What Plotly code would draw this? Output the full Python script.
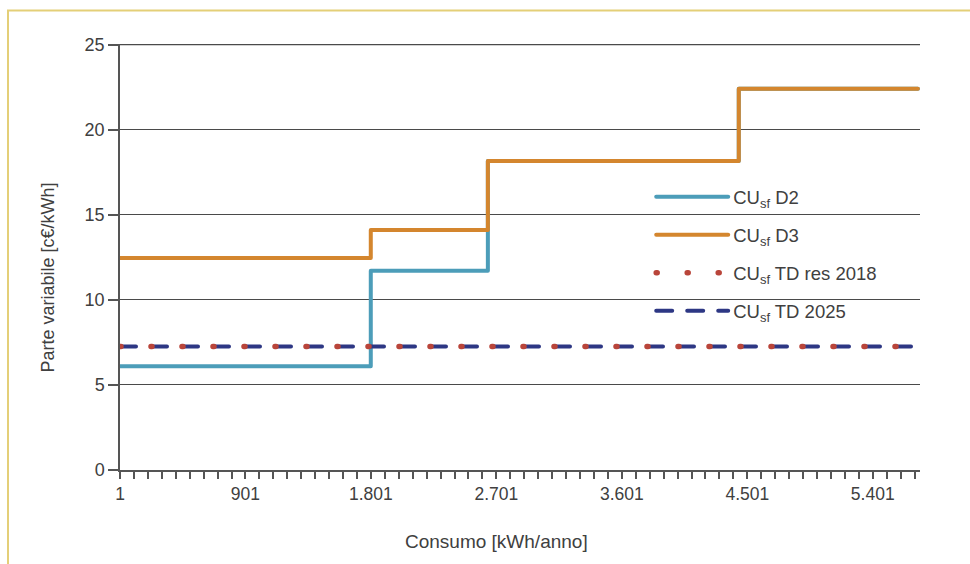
import plotly.graph_objects as go

# Consumption brackets (kWh/anno) where each tariff level begins, plus the last point
consumo_kwh = [1, 1800, 2640, 4440, 5725]
cu_sf_d2 = [6.1, 11.7, 18.15, 22.4, 22.4]
cu_sf_d3 = [12.45, 14.1, 18.15, 22.4, 22.4]

# Flat tariffs over the whole range
td_x = [1, 5725]
cu_sf_td_2018 = [7.25, 7.25]
cu_sf_td_2025 = [7.25, 7.25]

x_tick_vals = [1, 901, 1801, 2701, 3601, 4501, 5401]
x_tick_text = ["1", "901", "1.801", "2.701", "3.601", "4.501", "5.401"]
y_tick_vals = [0, 5, 10, 15, 20, 25]

FONT = "Liberation Sans, Arial, sans-serif"
TEXT = "#404040"
AXIS = "#555555"
GRID = "#4a4a4a"

fig = go.Figure()

fig.add_trace(go.Scatter(
    x=consumo_kwh, y=cu_sf_d2, mode="lines", line_shape="hv",
    name="CU<sub>sf</sub> D2", legendgroup="d2", legendrank=1,
    line=dict(color="#4c9db9", width=4),
))
fig.add_trace(go.Scatter(
    x=consumo_kwh, y=cu_sf_d3, mode="lines", line_shape="hv",
    name="CU<sub>sf</sub> D3", legendgroup="d3", legendrank=2,
    line=dict(color="#d4862e", width=4),
))
fig.add_trace(go.Scatter(
    x=td_x, y=cu_sf_td_2025, mode="lines",
    name="CU<sub>sf</sub> TD 2025", legendgroup="td25", legendrank=4,
    line=dict(color="#2d3784", width=4, dash="16px,15px"),
))
fig.add_trace(go.Scatter(
    x=td_x, y=cu_sf_td_2018, mode="lines",
    name="CU<sub>sf</sub> TD res 2018", legendgroup="td18", legendrank=3,
    line=dict(color="#b9453a", width=5.5, dash="1px,30px"),
))

fig.update_layout(
    width=970, height=564,
    margin=dict(l=120, r=50, t=44, b=94, pad=0),
    paper_bgcolor="white", plot_bgcolor="white",
    font=dict(family=FONT, size=17.5, color=TEXT),
    legend=dict(
        x=0.664, y=0.685, xanchor="left", yanchor="top",
        bgcolor="rgba(255,255,255,0)", borderwidth=0,
        font=dict(family=FONT, size=18.5, color=TEXT),
        tracegroupgap=11, itemwidth=72,
    ),
    xaxis=dict(
        range=[1, 5740], showgrid=False, zeroline=False,
        showline=True, linecolor=AXIS, linewidth=1.5,
        tickmode="array", tickvals=x_tick_vals, ticktext=x_tick_text,
        ticks="outside", ticklen=7, tickwidth=1.5, tickcolor=AXIS,
        minor=dict(tickmode="linear", tick0=1, dtick=100, ticks="outside",
                   ticklen=7, tickwidth=1.5, tickcolor=AXIS, showgrid=False),
        tickfont=dict(size=17.5, color=TEXT),
    ),
    yaxis=dict(
        range=[0, 25.03], tickmode="array", tickvals=y_tick_vals,
        showgrid=True, gridcolor=GRID, gridwidth=1.3, zeroline=False,
        showline=True, linecolor=AXIS, linewidth=1.5,
        ticks="outside", ticklen=10, tickwidth=1.5, tickcolor=AXIS,
        tickfont=dict(size=18, color=TEXT),
    ),
    annotations=[
        dict(text="Consumo [kWh/anno]", xref="paper", yref="paper",
             x=0.471, y=-0.168, xanchor="center", yanchor="middle",
             showarrow=False, font=dict(size=19, color=TEXT)),
        dict(text="Parte variabile [c€/kWh]", xref="paper", yref="paper",
             x=-0.09, y=0.452, xanchor="center", yanchor="middle",
             textangle=-90, showarrow=False, font=dict(size=18, color=TEXT)),
    ],
    shapes=[
        # thin golden frame around the figure
        dict(type="rect", xref="paper", yref="paper",
             x0=-0.14, x1=1.1, y0=-0.3, y1=1.0786,
             line=dict(color="#e4cf78", width=2), fillcolor="rgba(0,0,0,0)",
             layer="below"),
        # top gridline at the upper end of the value scale
        dict(type="line", xref="paper", yref="y",
             x0=0, x1=1, y0=y_tick_vals[-1], y1=y_tick_vals[-1],
             line=dict(color=GRID, width=1.3), layer="between"),
        # white panel behind the legend, hiding the gridlines there
        dict(type="rect", xref="paper", yref="paper",
             x0=0.641, x1=0.973, y0=0.33, y1=0.69,
             line=dict(width=0), fillcolor="white", layer="between"),
    ],
)

round_caps = (
    "var s=document.createElement('style');"
    "s.textContent='.js-line{stroke-linecap:round;stroke-linejoin:round;}';"
    "document.head.appendChild(s);"
)

fig.write_html("out.html", post_script=round_caps)
